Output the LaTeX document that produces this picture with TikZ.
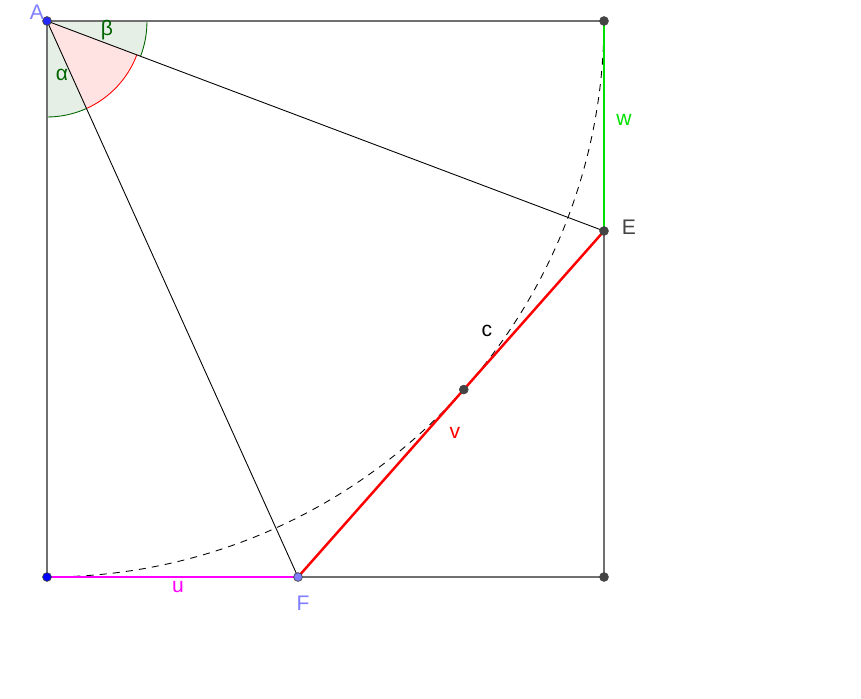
\documentclass[tikz,border=0pt]{standalone}
\usepackage{fontspec}
\setmainfont{Liberation Sans}
\usetikzlibrary{calc,positioning}
\definecolor{edgegray}{HTML}{707070}
\definecolor{ptdark}{HTML}{444444}
\definecolor{ptblue}{HTML}{7F7FFF}
\definecolor{angdark}{HTML}{006400}
\definecolor{angfill}{HTML}{E5EFE5}
\definecolor{redfill}{HTML}{FFE3E3}
\definecolor{gglgreen}{HTML}{00E000}
\definecolor{gglmagenta}{HTML}{FF00FF}
\definecolor{gglred}{HTML}{FF0000}
\tikzset{
  side/.style={edgegray, line width=1.1pt},
  seg/.style={black, line width=0.5pt},
  dot/.style={circle, draw=ptdark, fill=#1, inner sep=0pt, minimum size=5pt, line width=0.4pt},
  lbl/.style={font=\fontsize{12}{14}\selectfont, inner sep=1pt}
}
\begin{document}
\begin{tikzpicture}[x=0.02cm, y=0.02cm]
  \useasboundingbox (0,0) rectangle (861,698);
  % square corners and points on its sides
  \coordinate (A) at (47,677);
  \coordinate (B) at (604,677);
  \coordinate (C) at (604,121);
  \coordinate (D) at (47,121);
  \coordinate (E) at (604,467);
  \coordinate (F) at (298,121);
  \coordinate (T) at ($(E)!(A)!(F)$);

  % angle sectors
  \fill[angfill] (A) -- ++(-90:96) arc[start angle=-90, end angle=-65.70, radius=96] -- cycle;
  \fill[angfill] (A) -- ++(-20.66:100) arc[start angle=-20.66, end angle=0, radius=100] -- cycle;
  \fill[redfill] (A) -- ++(-65.70:96) arc[start angle=-65.70, end angle=-20.66, radius=96] -- cycle;
  \draw[angdark, line width=0.5pt] (A) ++(-90:96) arc[start angle=-90, end angle=-65.70, radius=96];
  \draw[angdark, line width=0.5pt] (A) ++(-20.66:100) arc[start angle=-20.66, end angle=0, radius=100];
  \draw[gglred, line width=0.5pt] (A) ++(-65.70:96) arc[start angle=-65.70, end angle=-20.66, radius=96];

  \draw[side] (A) -- (B) -- (C) -- (D) -- cycle;
  \draw[seg, dash pattern=on 4pt off 3.5pt] (D) arc[start angle=-90, end angle=0, radius=557];
  \draw[seg] (A) -- (E);
  \draw[seg] (A) -- (F);
  \draw[gglgreen, line width=1.4pt] (B) -- (E);
  \draw[gglmagenta, line width=1.4pt] (D) -- (F);
  \draw[gglred, line width=1.4pt] (F) -- (E);

  \node[dot=blue!70!ptblue] (nA) at (A) {};
  \node[dot=ptdark] (nB) at (B) {};
  \node[dot=ptdark] (nC) at (C) {};
  \node[dot=blue] (nD) at (D) {};
  \node[dot=ptdark] (nE) at (E) {};
  \node[dot=ptblue] (nF) at (F) {};
  \node[dot=ptdark] (nT) at (T) {};

  \node[lbl, ptblue]     (labA) at (37,686) {A};
  \node[lbl, ptdark]     (labE) at (629,471) {E};
  \node[lbl, ptblue]     (labF) at (303,95) {F};
  \node[lbl, gglgreen]   (labw) at (624,578) {w};
  \node[lbl, black]      (labc) at (487,367) {c};
  \node[lbl, gglred]     (labv) at (455,265) {v};
  \node[lbl, gglmagenta] (labu) at (178,111) {u};
  \node[lbl, angdark]    (alpha) at (62,623) {α};
  \node[lbl, angdark]    (beta) at (107,668) {β};
\end{tikzpicture}
\end{document}
